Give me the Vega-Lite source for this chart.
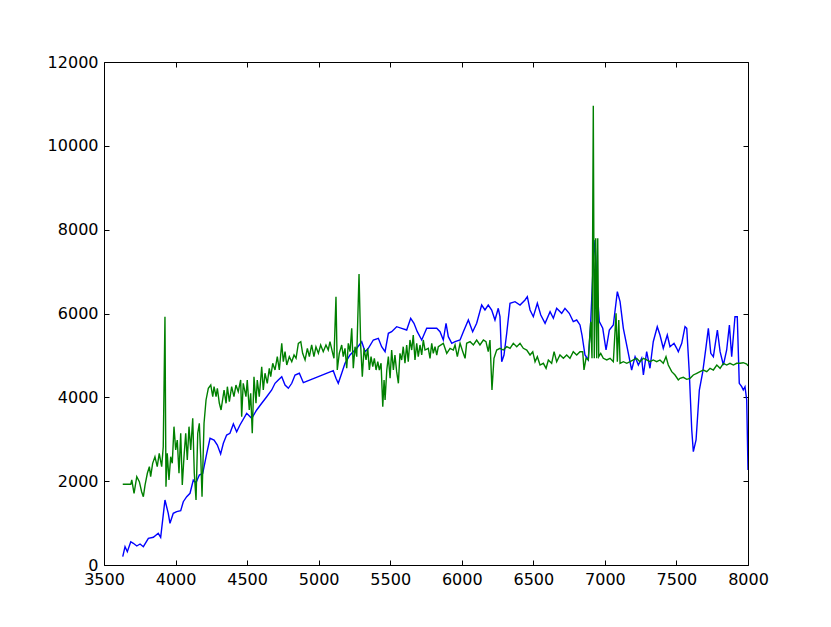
{
  "$schema": "https://vega.github.io/schema/vega-lite/v6.json",
  "width": 644,
  "height": 503,
  "autosize": {"type": "none"},
  "padding": {"left": 104, "top": 62, "right": 83, "bottom": 62},
  "background": "white",
  "config": {
    "view": {"stroke": "black", "strokeWidth": 1},
    "axis": {
      "grid": false,
      "domain": false,
      "ticks": true,
      "tickColor": "black",
      "tickSize": -5,
      "tickWidth": 1,
      "labelFlush": false,
      "labelOverlap": false,
      "labelFont": "DejaVu Sans",
      "labelFontSize": 16,
      "labelColor": "black",
      "title": null
    }
  },
  "datasets": {
    "blue": [
      {"wavelength": 3631, "flux": 198}, {"wavelength": 3647, "flux": 437}, {"wavelength": 3663, "flux": 317},
      {"wavelength": 3687, "flux": 556}, {"wavelength": 3705, "flux": 518}, {"wavelength": 3729, "flux": 453},
      {"wavelength": 3752, "flux": 501}, {"wavelength": 3775, "flux": 437}, {"wavelength": 3810, "flux": 637},
      {"wavelength": 3845, "flux": 661}, {"wavelength": 3879, "flux": 756}, {"wavelength": 3896, "flux": 661},
      {"wavelength": 3926, "flux": 1551}, {"wavelength": 3949, "flux": 1233}, {"wavelength": 3961, "flux": 995},
      {"wavelength": 3984, "flux": 1233}, {"wavelength": 4008, "flux": 1272}, {"wavelength": 4036, "flux": 1296},
      {"wavelength": 4054, "flux": 1510}, {"wavelength": 4078, "flux": 1630}, {"wavelength": 4101, "flux": 1711},
      {"wavelength": 4124, "flux": 2028}, {"wavelength": 4143, "flux": 1964}, {"wavelength": 4166, "flux": 2147},
      {"wavelength": 4190, "flux": 2188}, {"wavelength": 4218, "flux": 2665}, {"wavelength": 4241, "flux": 3023},
      {"wavelength": 4269, "flux": 2982}, {"wavelength": 4292, "flux": 2863}, {"wavelength": 4315, "flux": 2648},
      {"wavelength": 4334, "flux": 2903}, {"wavelength": 4357, "flux": 3101}, {"wavelength": 4380, "flux": 3142},
      {"wavelength": 4404, "flux": 3364}, {"wavelength": 4427, "flux": 3180}, {"wavelength": 4450, "flux": 3340},
      {"wavelength": 4497, "flux": 3619}, {"wavelength": 4532, "flux": 3500}, {"wavelength": 4567, "flux": 3698},
      {"wavelength": 4602, "flux": 3858}, {"wavelength": 4637, "flux": 4015}, {"wavelength": 4672, "flux": 4175},
      {"wavelength": 4695, "flux": 4335}, {"wavelength": 4718, "flux": 4414}, {"wavelength": 4742, "flux": 4492},
      {"wavelength": 4765, "flux": 4294}, {"wavelength": 4788, "flux": 4216}, {"wavelength": 4812, "flux": 4335},
      {"wavelength": 4835, "flux": 4533}, {"wavelength": 4865, "flux": 4574}, {"wavelength": 4893, "flux": 4349},
      {"wavelength": 5102, "flux": 4636}, {"wavelength": 5121, "flux": 4454}, {"wavelength": 5137, "flux": 4335},
      {"wavelength": 5161, "flux": 4574}, {"wavelength": 5184, "flux": 4812}, {"wavelength": 5219, "flux": 5010},
      {"wavelength": 5266, "flux": 5170}, {"wavelength": 5301, "flux": 5327}, {"wavelength": 5324, "flux": 5089},
      {"wavelength": 5347, "flux": 5170}, {"wavelength": 5382, "flux": 5368}, {"wavelength": 5417, "flux": 5408},
      {"wavelength": 5440, "flux": 5208}, {"wavelength": 5464, "flux": 5089}, {"wavelength": 5487, "flux": 5528},
      {"wavelength": 5510, "flux": 5566}, {"wavelength": 5545, "flux": 5685}, {"wavelength": 5580, "flux": 5647},
      {"wavelength": 5615, "flux": 5606}, {"wavelength": 5643, "flux": 5886}, {"wavelength": 5666, "flux": 5766},
      {"wavelength": 5689, "flux": 5566}, {"wavelength": 5720, "flux": 5368}, {"wavelength": 5755, "flux": 5647},
      {"wavelength": 5790, "flux": 5647}, {"wavelength": 5825, "flux": 5647}, {"wavelength": 5848, "flux": 5566},
      {"wavelength": 5871, "flux": 5368}, {"wavelength": 5890, "flux": 5766}, {"wavelength": 5906, "flux": 5447},
      {"wavelength": 5930, "flux": 5289}, {"wavelength": 5953, "flux": 5327}, {"wavelength": 5988, "flux": 5368},
      {"wavelength": 6011, "flux": 5566}, {"wavelength": 6046, "flux": 5845}, {"wavelength": 6076, "flux": 5566},
      {"wavelength": 6104, "flux": 5766}, {"wavelength": 6139, "flux": 6203}, {"wavelength": 6162, "flux": 6084},
      {"wavelength": 6185, "flux": 6203}, {"wavelength": 6209, "flux": 6084}, {"wavelength": 6232, "flux": 5845},
      {"wavelength": 6255, "flux": 6124}, {"wavelength": 6267, "flux": 5924}, {"wavelength": 6279, "flux": 4850},
      {"wavelength": 6295, "flux": 5010}, {"wavelength": 6314, "flux": 5528}, {"wavelength": 6337, "flux": 6243},
      {"wavelength": 6372, "flux": 6282}, {"wavelength": 6407, "flux": 6203}, {"wavelength": 6442, "flux": 6322},
      {"wavelength": 6458, "flux": 6401}, {"wavelength": 6477, "flux": 6084}, {"wavelength": 6500, "flux": 5924},
      {"wavelength": 6528, "flux": 6243}, {"wavelength": 6552, "flux": 5964}, {"wavelength": 6582, "flux": 5766},
      {"wavelength": 6617, "flux": 6043}, {"wavelength": 6640, "flux": 5886}, {"wavelength": 6663, "flux": 6124},
      {"wavelength": 6698, "flux": 6005}, {"wavelength": 6721, "flux": 6124}, {"wavelength": 6751, "flux": 6005},
      {"wavelength": 6779, "flux": 5805}, {"wavelength": 6803, "flux": 5845}, {"wavelength": 6826, "flux": 5726},
      {"wavelength": 6840, "flux": 5487}, {"wavelength": 6861, "flux": 5010}, {"wavelength": 6884, "flux": 4891},
      {"wavelength": 6901, "flux": 5805}, {"wavelength": 6919, "flux": 7236}, {"wavelength": 6931, "flux": 7754},
      {"wavelength": 6943, "flux": 6759}, {"wavelength": 6961, "flux": 5805}, {"wavelength": 6985, "flux": 5647},
      {"wavelength": 7008, "flux": 5129}, {"wavelength": 7031, "flux": 5606}, {"wavelength": 7059, "flux": 5726},
      {"wavelength": 7087, "flux": 6520}, {"wavelength": 7106, "flux": 6282}, {"wavelength": 7129, "flux": 5647},
      {"wavelength": 7157, "flux": 5170}, {"wavelength": 7187, "flux": 4652}, {"wavelength": 7211, "flux": 4970},
      {"wavelength": 7234, "flux": 4771}, {"wavelength": 7257, "flux": 4931}, {"wavelength": 7269, "flux": 4533},
      {"wavelength": 7292, "flux": 5089}, {"wavelength": 7315, "flux": 4693}, {"wavelength": 7338, "flux": 5327},
      {"wavelength": 7366, "flux": 5685}, {"wavelength": 7385, "flux": 5487}, {"wavelength": 7408, "flux": 5170},
      {"wavelength": 7436, "flux": 5487}, {"wavelength": 7455, "flux": 5208}, {"wavelength": 7483, "flux": 5289},
      {"wavelength": 7502, "flux": 5170}, {"wavelength": 7513, "flux": 5089}, {"wavelength": 7537, "flux": 5289},
      {"wavelength": 7560, "flux": 5685}, {"wavelength": 7572, "flux": 5647}, {"wavelength": 7590, "flux": 4574},
      {"wavelength": 7607, "flux": 3221}, {"wavelength": 7618, "flux": 2703}, {"wavelength": 7637, "flux": 2982},
      {"wavelength": 7660, "flux": 4175}, {"wavelength": 7684, "flux": 4612}, {"wavelength": 7707, "flux": 5208},
      {"wavelength": 7723, "flux": 5647}, {"wavelength": 7740, "flux": 5050}, {"wavelength": 7758, "flux": 4970},
      {"wavelength": 7786, "flux": 5606}, {"wavelength": 7805, "flux": 5089}, {"wavelength": 7828, "flux": 4771},
      {"wavelength": 7851, "flux": 5129}, {"wavelength": 7870, "flux": 5726}, {"wavelength": 7886, "flux": 4970},
      {"wavelength": 7909, "flux": 5924}, {"wavelength": 7925, "flux": 5924}, {"wavelength": 7939, "flux": 4335},
      {"wavelength": 7956, "flux": 4254}, {"wavelength": 7967, "flux": 4175}, {"wavelength": 7979, "flux": 4254},
      {"wavelength": 7991, "flux": 3937}, {"wavelength": 8000, "flux": 2267}
    ],
    "green": [
      {"wavelength": 3631, "flux": 1925}, {"wavelength": 3687, "flux": 1925}, {"wavelength": 3694, "flux": 2028},
      {"wavelength": 3710, "flux": 1711}, {"wavelength": 3729, "flux": 2107}, {"wavelength": 3747, "flux": 1987},
      {"wavelength": 3763, "flux": 1749}, {"wavelength": 3775, "flux": 1630}, {"wavelength": 3787, "flux": 1909},
      {"wavelength": 3803, "flux": 2188}, {"wavelength": 3817, "flux": 2345}, {"wavelength": 3826, "flux": 2107},
      {"wavelength": 3840, "flux": 2426}, {"wavelength": 3856, "flux": 2584}, {"wavelength": 3872, "flux": 2345},
      {"wavelength": 3886, "flux": 2665}, {"wavelength": 3903, "flux": 2345}, {"wavelength": 3914, "flux": 2822},
      {"wavelength": 3926, "flux": 5924}, {"wavelength": 3933, "flux": 1868}, {"wavelength": 3942, "flux": 2665},
      {"wavelength": 3954, "flux": 2028}, {"wavelength": 3966, "flux": 2584}, {"wavelength": 3977, "flux": 2426},
      {"wavelength": 3989, "flux": 3300}, {"wavelength": 4001, "flux": 2744}, {"wavelength": 4012, "flux": 2982},
      {"wavelength": 4024, "flux": 2188}, {"wavelength": 4036, "flux": 3142}, {"wavelength": 4047, "flux": 1909},
      {"wavelength": 4059, "flux": 2584}, {"wavelength": 4071, "flux": 3142}, {"wavelength": 4082, "flux": 2505},
      {"wavelength": 4094, "flux": 3300}, {"wavelength": 4106, "flux": 2744}, {"wavelength": 4120, "flux": 3500},
      {"wavelength": 4131, "flux": 2188}, {"wavelength": 4143, "flux": 1551}, {"wavelength": 4155, "flux": 3142},
      {"wavelength": 4166, "flux": 3381}, {"wavelength": 4176, "flux": 2584}, {"wavelength": 4185, "flux": 1630},
      {"wavelength": 4199, "flux": 3381}, {"wavelength": 4213, "flux": 3937}, {"wavelength": 4229, "flux": 4216},
      {"wavelength": 4246, "flux": 4294}, {"wavelength": 4260, "flux": 4015}, {"wavelength": 4269, "flux": 4254},
      {"wavelength": 4283, "flux": 4015}, {"wavelength": 4292, "flux": 4216}, {"wavelength": 4306, "flux": 3858},
      {"wavelength": 4318, "flux": 3698}, {"wavelength": 4339, "flux": 4175}, {"wavelength": 4353, "flux": 3858},
      {"wavelength": 4362, "flux": 4254}, {"wavelength": 4376, "flux": 3896}, {"wavelength": 4392, "flux": 4254},
      {"wavelength": 4408, "flux": 4015}, {"wavelength": 4422, "flux": 4294}, {"wavelength": 4438, "flux": 4135},
      {"wavelength": 4455, "flux": 4414}, {"wavelength": 4462, "flux": 3538}, {"wavelength": 4473, "flux": 4335},
      {"wavelength": 4492, "flux": 4015}, {"wavelength": 4501, "flux": 4414}, {"wavelength": 4515, "flux": 3698},
      {"wavelength": 4525, "flux": 4096}, {"wavelength": 4536, "flux": 3142}, {"wavelength": 4548, "flux": 4492},
      {"wavelength": 4562, "flux": 3858}, {"wavelength": 4571, "flux": 4414}, {"wavelength": 4585, "flux": 4015},
      {"wavelength": 4602, "flux": 4731}, {"wavelength": 4613, "flux": 4175}, {"wavelength": 4625, "flux": 4574},
      {"wavelength": 4641, "flux": 4335}, {"wavelength": 4655, "flux": 4693}, {"wavelength": 4665, "flux": 4492},
      {"wavelength": 4679, "flux": 4812}, {"wavelength": 4695, "flux": 4652}, {"wavelength": 4711, "flux": 4970},
      {"wavelength": 4725, "flux": 4652}, {"wavelength": 4742, "flux": 5289}, {"wavelength": 4753, "flux": 4850},
      {"wavelength": 4765, "flux": 5089}, {"wavelength": 4777, "flux": 4771}, {"wavelength": 4795, "flux": 4970},
      {"wavelength": 4812, "flux": 4850}, {"wavelength": 4828, "flux": 5010}, {"wavelength": 4842, "flux": 4931},
      {"wavelength": 4858, "flux": 5289}, {"wavelength": 4875, "flux": 5327}, {"wavelength": 4888, "flux": 5050},
      {"wavelength": 4905, "flux": 4891}, {"wavelength": 4921, "flux": 5170}, {"wavelength": 4935, "flux": 4970},
      {"wavelength": 4951, "flux": 5249}, {"wavelength": 4967, "flux": 4970}, {"wavelength": 4981, "flux": 5208},
      {"wavelength": 4998, "flux": 5050}, {"wavelength": 5014, "flux": 5249}, {"wavelength": 5032, "flux": 5089},
      {"wavelength": 5051, "flux": 5249}, {"wavelength": 5067, "flux": 5129}, {"wavelength": 5079, "flux": 5327},
      {"wavelength": 5098, "flux": 5050}, {"wavelength": 5107, "flux": 4931}, {"wavelength": 5121, "flux": 6401},
      {"wavelength": 5130, "flux": 4652}, {"wavelength": 5144, "flux": 5050}, {"wavelength": 5161, "flux": 5249},
      {"wavelength": 5172, "flux": 4970}, {"wavelength": 5184, "flux": 5170}, {"wavelength": 5196, "flux": 4693},
      {"wavelength": 5207, "flux": 5289}, {"wavelength": 5219, "flux": 5089}, {"wavelength": 5231, "flux": 5647},
      {"wavelength": 5242, "flux": 4693}, {"wavelength": 5254, "flux": 5208}, {"wavelength": 5266, "flux": 4970},
      {"wavelength": 5282, "flux": 6943}, {"wavelength": 5294, "flux": 5208}, {"wavelength": 5305, "flux": 4492},
      {"wavelength": 5317, "flux": 5170}, {"wavelength": 5331, "flux": 4891}, {"wavelength": 5343, "flux": 5170},
      {"wavelength": 5354, "flux": 4652}, {"wavelength": 5366, "flux": 4970}, {"wavelength": 5378, "flux": 4731},
      {"wavelength": 5389, "flux": 4931}, {"wavelength": 5401, "flux": 4652}, {"wavelength": 5413, "flux": 4850},
      {"wavelength": 5424, "flux": 4652}, {"wavelength": 5436, "flux": 4812}, {"wavelength": 5448, "flux": 3777},
      {"wavelength": 5457, "flux": 4414}, {"wavelength": 5464, "flux": 3937}, {"wavelength": 5476, "flux": 4652},
      {"wavelength": 5487, "flux": 4970}, {"wavelength": 5499, "flux": 4454}, {"wavelength": 5510, "flux": 5129},
      {"wavelength": 5522, "flux": 4652}, {"wavelength": 5533, "flux": 5010}, {"wavelength": 5545, "flux": 4612},
      {"wavelength": 5557, "flux": 4335}, {"wavelength": 5568, "flux": 5050}, {"wavelength": 5580, "flux": 4891},
      {"wavelength": 5591, "flux": 5208}, {"wavelength": 5603, "flux": 4812}, {"wavelength": 5615, "flux": 5249},
      {"wavelength": 5626, "flux": 4850}, {"wavelength": 5638, "flux": 5368}, {"wavelength": 5650, "flux": 5129},
      {"wavelength": 5661, "flux": 5487}, {"wavelength": 5673, "flux": 4891}, {"wavelength": 5685, "flux": 5289},
      {"wavelength": 5696, "flux": 4970}, {"wavelength": 5708, "flux": 5249}, {"wavelength": 5720, "flux": 5010},
      {"wavelength": 5731, "flux": 5368}, {"wavelength": 5743, "flux": 5129}, {"wavelength": 5766, "flux": 5170},
      {"wavelength": 5778, "flux": 4931}, {"wavelength": 5790, "flux": 5289}, {"wavelength": 5801, "flux": 5050},
      {"wavelength": 5813, "flux": 5208}, {"wavelength": 5825, "flux": 5010}, {"wavelength": 5836, "flux": 5208},
      {"wavelength": 5871, "flux": 5289}, {"wavelength": 5895, "flux": 5050}, {"wavelength": 5918, "flux": 5170},
      {"wavelength": 5941, "flux": 5129}, {"wavelength": 5953, "flux": 5249}, {"wavelength": 5969, "flux": 4970},
      {"wavelength": 5988, "flux": 5289}, {"wavelength": 6007, "flux": 5089}, {"wavelength": 6023, "flux": 4931},
      {"wavelength": 6034, "flux": 5289}, {"wavelength": 6058, "flux": 5327}, {"wavelength": 6081, "flux": 5249},
      {"wavelength": 6104, "flux": 5368}, {"wavelength": 6127, "flux": 5249}, {"wavelength": 6151, "flux": 5368},
      {"wavelength": 6169, "flux": 5327}, {"wavelength": 6185, "flux": 5089}, {"wavelength": 6197, "flux": 5368},
      {"wavelength": 6211, "flux": 4175}, {"wavelength": 6225, "flux": 4931}, {"wavelength": 6244, "flux": 5129},
      {"wavelength": 6267, "flux": 5170}, {"wavelength": 6290, "flux": 5129}, {"wavelength": 6314, "flux": 5208},
      {"wavelength": 6337, "flux": 5170}, {"wavelength": 6360, "flux": 5289}, {"wavelength": 6384, "flux": 5208},
      {"wavelength": 6407, "flux": 5289}, {"wavelength": 6430, "flux": 5170}, {"wavelength": 6454, "flux": 5129},
      {"wavelength": 6477, "flux": 5010}, {"wavelength": 6496, "flux": 5089}, {"wavelength": 6512, "flux": 4850},
      {"wavelength": 6528, "flux": 4970}, {"wavelength": 6547, "flux": 4771}, {"wavelength": 6570, "flux": 4812},
      {"wavelength": 6589, "flux": 4693}, {"wavelength": 6605, "flux": 4891}, {"wavelength": 6628, "flux": 4812},
      {"wavelength": 6645, "flux": 5089}, {"wavelength": 6663, "flux": 4850}, {"wavelength": 6686, "flux": 5010},
      {"wavelength": 6710, "flux": 4931}, {"wavelength": 6733, "flux": 5010}, {"wavelength": 6756, "flux": 4931},
      {"wavelength": 6779, "flux": 5089}, {"wavelength": 6803, "flux": 5010}, {"wavelength": 6826, "flux": 5089},
      {"wavelength": 6845, "flux": 5089}, {"wavelength": 6854, "flux": 4652}, {"wavelength": 6868, "flux": 4931},
      {"wavelength": 6884, "flux": 4891}, {"wavelength": 6901, "flux": 5805}, {"wavelength": 6910, "flux": 4931},
      {"wavelength": 6919, "flux": 10959}, {"wavelength": 6926, "flux": 4931}, {"wavelength": 6936, "flux": 7795},
      {"wavelength": 6943, "flux": 4931}, {"wavelength": 6950, "flux": 7795}, {"wavelength": 6957, "flux": 4970},
      {"wavelength": 6971, "flux": 5050}, {"wavelength": 6989, "flux": 4931}, {"wavelength": 7013, "flux": 4891},
      {"wavelength": 7036, "flux": 4931}, {"wavelength": 7059, "flux": 4850}, {"wavelength": 7078, "flux": 6005},
      {"wavelength": 7087, "flux": 4850}, {"wavelength": 7097, "flux": 5845}, {"wavelength": 7106, "flux": 4812},
      {"wavelength": 7129, "flux": 4850}, {"wavelength": 7153, "flux": 4812}, {"wavelength": 7176, "flux": 4850},
      {"wavelength": 7199, "flux": 4891}, {"wavelength": 7222, "flux": 4931}, {"wavelength": 7245, "flux": 4850},
      {"wavelength": 7269, "flux": 4931}, {"wavelength": 7292, "flux": 4891}, {"wavelength": 7315, "flux": 4850},
      {"wavelength": 7338, "flux": 4891}, {"wavelength": 7362, "flux": 4850}, {"wavelength": 7385, "flux": 4891},
      {"wavelength": 7408, "flux": 4812}, {"wavelength": 7427, "flux": 4970}, {"wavelength": 7443, "flux": 4771},
      {"wavelength": 7467, "flux": 4612}, {"wavelength": 7490, "flux": 4533}, {"wavelength": 7513, "flux": 4414},
      {"wavelength": 7525, "flux": 4454}, {"wavelength": 7548, "flux": 4478}, {"wavelength": 7572, "flux": 4430},
      {"wavelength": 7595, "flux": 4454}, {"wavelength": 7618, "flux": 4533}, {"wavelength": 7642, "flux": 4574},
      {"wavelength": 7665, "flux": 4612}, {"wavelength": 7688, "flux": 4652}, {"wavelength": 7712, "flux": 4612},
      {"wavelength": 7735, "flux": 4693}, {"wavelength": 7758, "flux": 4652}, {"wavelength": 7782, "flux": 4771},
      {"wavelength": 7805, "flux": 4693}, {"wavelength": 7828, "flux": 4812}, {"wavelength": 7851, "flux": 4771},
      {"wavelength": 7874, "flux": 4812}, {"wavelength": 7898, "flux": 4771}, {"wavelength": 7921, "flux": 4812},
      {"wavelength": 7944, "flux": 4812}, {"wavelength": 7967, "flux": 4826}, {"wavelength": 7991, "flux": 4796},
      {"wavelength": 8000, "flux": 4748}
    ]
  },
  "resolve": {"axis": {"x": "independent", "y": "independent"}},
  "layer": [
    {
      "data": {"name": "blue"},
      "mark": {"type": "line", "color": "#0000ff", "strokeWidth": 1.4, "clip": true},
      "encoding": {
        "x": {"field": "wavelength", "type": "quantitative",
              "scale": {"domain": [3500, 8000], "nice": false, "zero": false},
              "axis": {"orient": "bottom", "values": [3500, 4000, 4500, 5000, 5500, 6000, 6500, 7000, 7500, 8000], "format": "d", "labelPadding": 11}},
        "y": {"field": "flux", "type": "quantitative",
              "scale": {"domain": [0, 12000], "nice": false},
              "axis": {"orient": "left", "values": [0, 2000, 4000, 6000, 8000, 10000, 12000], "format": "d", "labelPadding": 11}}
      }
    },
    {
      "data": {"name": "green"},
      "mark": {"type": "line", "color": "#008000", "strokeWidth": 1.4, "clip": true},
      "encoding": {
        "x": {"field": "wavelength", "type": "quantitative",
              "scale": {"domain": [3500, 8000], "nice": false, "zero": false},
              "axis": {"orient": "top", "values": [3500, 4000, 4500, 5000, 5500, 6000, 6500, 7000, 7500, 8000], "labels": false}},
        "y": {"field": "flux", "type": "quantitative",
              "scale": {"domain": [0, 12000], "nice": false},
              "axis": {"orient": "right", "values": [0, 2000, 4000, 6000, 8000, 10000, 12000], "labels": false}}
      }
    }
  ]
}
